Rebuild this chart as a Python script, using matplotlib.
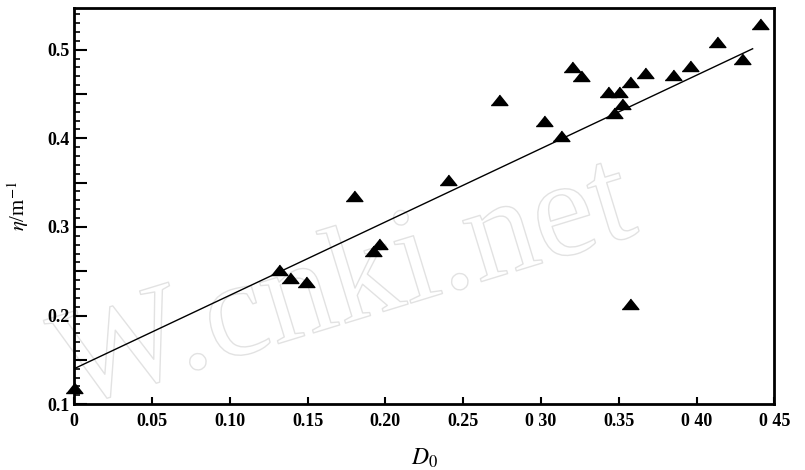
import matplotlib
matplotlib.use("Agg")
import matplotlib.pyplot as plt
from matplotlib.ticker import MultipleLocator, FuncFormatter
from matplotlib import patheffects

# measured points (D0, eta)
d0 = [0.0, 0.132, 0.139, 0.149, 0.180, 0.192, 0.196, 0.240, 0.273, 0.302,
      0.313, 0.320, 0.326, 0.343, 0.350, 0.352, 0.347, 0.357, 0.367, 0.385,
      0.396, 0.413, 0.429, 0.441, 0.357]
eta = [0.118, 0.251, 0.242, 0.238, 0.335, 0.273, 0.281, 0.353, 0.443, 0.419,
       0.403, 0.480, 0.470, 0.452, 0.452, 0.439, 0.429, 0.463, 0.474, 0.471,
       0.481, 0.509, 0.490, 0.529, 0.213]

# fitted line end points
fit_x = [0.0, 0.436]
fit_y = [0.140, 0.501]

x_ticks = [0.0, 0.05, 0.10, 0.15, 0.20, 0.25, 0.30, 0.35, 0.40, 0.45]
x_labels = ["0", "0.05", "0.10", "0.15", "0.20", "0.25", "0 30", "0.35", "0 40", "0 45"]

plt.rcParams["font.family"] = ["Liberation Serif", "DejaVu Serif"]
plt.rcParams["mathtext.fontset"] = "stix"

fig = plt.figure(figsize=(8.05, 4.70), dpi=100)
ax = fig.add_axes([0.092, 0.140, 0.870, 0.843])

tri = [(-1.0, -0.6), (1.0, -0.6), (0.0, 0.65)]
ax.plot(fit_x, fit_y, color="black", lw=1.0, zorder=3)
ax.plot(d0, eta, linestyle="none", marker=tri, markersize=12,
        color="black", zorder=4, clip_on=False)

ax.set_xlim(0, 0.45)
ax.set_ylim(0.1, 0.547)

ax.set_xticks(x_ticks)
ax.set_xticklabels(x_labels)
ax.yaxis.set_major_locator(MultipleLocator(0.05))
ax.yaxis.set_minor_locator(MultipleLocator(0.01))

def ylab(v, pos):
    if abs(round(v * 10) - v * 10) < 1e-6:
        return "%.1f" % v
    return ""

ax.yaxis.set_major_formatter(FuncFormatter(ylab))

ax.tick_params(axis="x", direction="in", length=5, width=1.5, labelsize=13, pad=6)
ax.tick_params(axis="y", which="major", direction="in", length=9, width=1.5,
               labelsize=13, pad=3)
ax.tick_params(axis="y", which="minor", direction="in", length=4, width=1.2)
for lab in ax.get_xticklabels() + ax.get_yticklabels():
    lab.set_fontweight("bold")

for sp in ax.spines.values():
    sp.set_linewidth(2)

ax.set_xlabel(r"$D_0$", fontsize=17, labelpad=12)
ax.set_ylabel(r"$\eta$/m$^{-1}$", fontsize=15, labelpad=12)

# watermark, behind the data
ax.text(0.795, 0.504, "W.cnki.net", fontsize=100, color=(1, 1, 1, 0),
        rotation=17, rotation_mode="anchor", ha="right", va="baseline",
        family="Liberation Serif", zorder=1, transform=fig.transFigure,
        clip_on=False,
        path_effects=[patheffects.Stroke(linewidth=1.0, foreground="#e2e2e2")])

fig.savefig("out.png", dpi=100)
